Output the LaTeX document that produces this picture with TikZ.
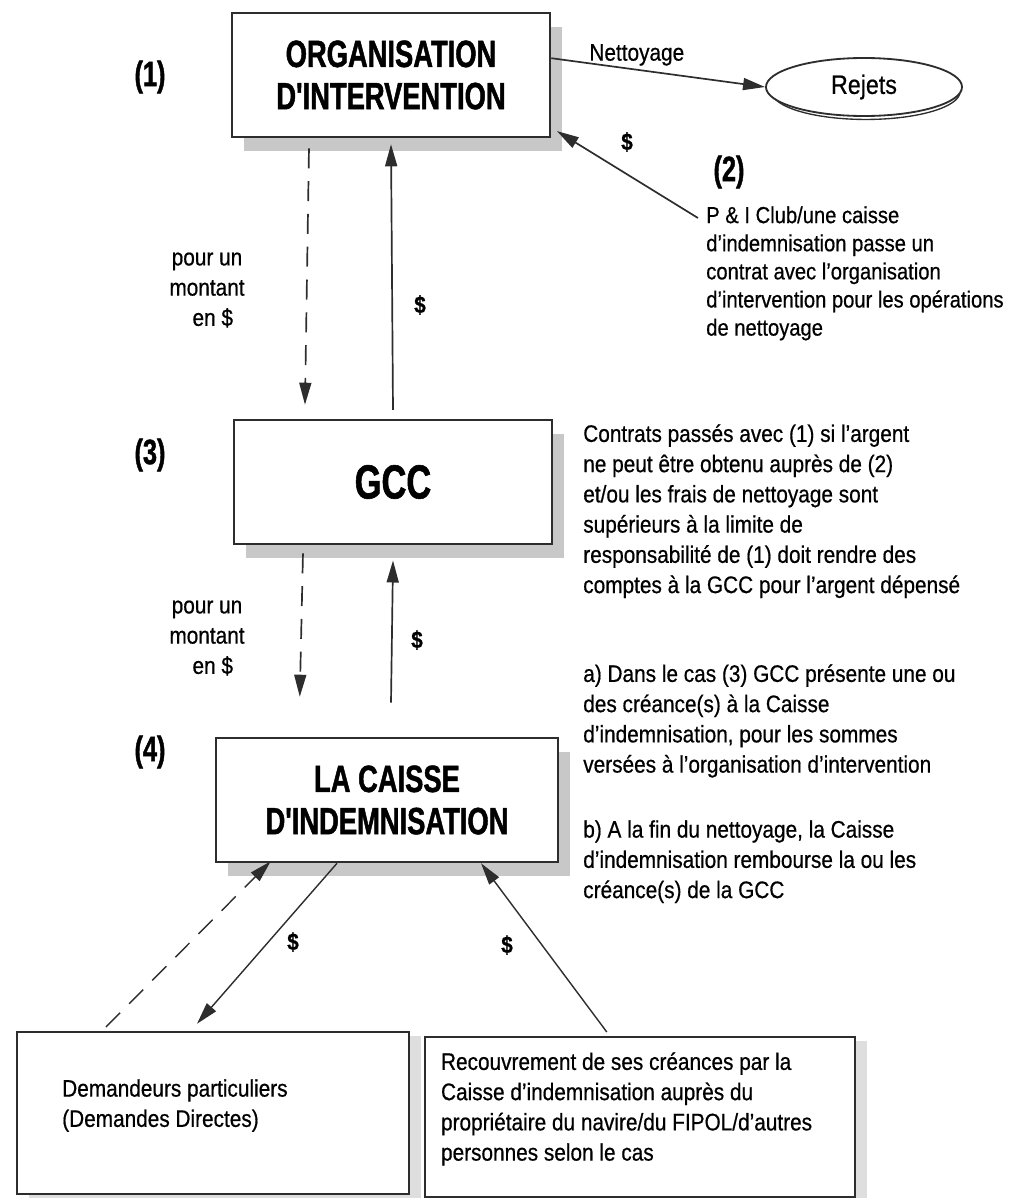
\documentclass[tikz,border=0pt]{standalone}
\usepackage{fontspec}
\setmainfont{Liberation Sans}[FakeStretch=0.87, FakeBold=0.6]
\newfontfamily\headfont{Liberation Sans}[FakeStretch=0.72, FakeBold=1.2]
\usetikzlibrary{arrows.meta, positioning, shapes.geometric, shadows}
\definecolor{inkgray}{RGB}{45,45,45}
\definecolor{shadowgray}{RGB}{200,200,200}

\begin{document}
\begin{tikzpicture}[x=0.025cm, y=-0.025cm,
		font=\fontsize{17}{21.5}\selectfont,
		>={Triangle[length=0.55cm, width=0.3cm]},
		base/.style = {draw=inkgray, fill=white, line width=1.8pt},
		boxshadow/.style = {drop shadow={shadow xshift=0.3cm, shadow yshift=-0.34cm, fill=shadowgray, opacity=1}},
		headbox/.style = {rectangle, base, boxshadow, align=center, minimum width=7.95cm, minimum height=3.1cm, font=\headfont\bfseries\fontsize{27}{30}\selectfont},
		lowbox/.style = {rectangle, base, line width=1.4pt, drop shadow={shadow xshift=0.3cm, shadow yshift=-0.1cm, fill=shadowgray!60, opacity=1}},
		txt/.style = {anchor=north west, align=left, inner sep=0pt},
		num/.style = {font=\headfont\bfseries\fontsize{25}{27}\selectfont},
		dollar/.style = {font=\bfseries\fontsize{17}{20}\selectfont},
		conn/.style = {->, draw=inkgray, line width=1.2pt},
		dconn/.style = {conn, dash pattern=on 0.5cm off 0.32cm}
		]
		\useasboundingbox (0,0) rectangle (1030,1198);
		
		% boxes
		\node (org) [headbox] at (391,75) {ORGANISATION\\D'INTERVENTION};
		\node (rejets) [ellipse, draw=inkgray, fill=white, line width=1.3pt, minimum width=4.9cm, minimum height=1.45cm, font=\fontsize{19}{21}\selectfont,
			drop shadow={shadow xshift=0.05cm, shadow yshift=-0.12cm, shadow scale=0.96, fill=none, draw=inkgray, line width=1pt, opacity=1}] at (864,87) {Rejets};
		\node (gcc) [headbox, font=\headfont\bfseries\fontsize{34}{36}\selectfont] at (393,482) {GCC};
		\node (caisse) [headbox, minimum width=8.55cm] at (387,800) {LA CAISSE\\D'INDEMNISATION};
		\node (dem) [lowbox, minimum width=9.8cm, minimum height=4.05cm] at (213,1113) {};
		\node (rec) [lowbox, minimum width=10.75cm, minimum height=4.0cm] at (640,1117) {};
		
		% numbers
		\node (n1) [num] at (150,77) {(1)};
		\node (n2) [num] at (729,172) {(2)};
		\node (n3) [num] at (150,455) {(3)};
		\node (n4) [num] at (150,752) {(4)};
		
		% texts
		\node (t2) [txt, font=\fontsize{16.5}{20}\selectfont] at (706,206) {P \& I Club/une caisse\\d'indemnisation passe un\\contrat avec l'organisation\\d'intervention pour les opérations\\de nettoyage};
		\node (t3) [txt] at (583,424) {Contrats passés avec (1) si l'argent\\ne peut être obtenu auprès de (2)\\et/ou les frais de nettoyage sont\\supérieurs à la limite de\\responsabilité de (1) doit rendre des\\comptes à la GCC pour l'argent dépensé};
		\node (ta) [txt] at (583,664) {a) Dans le cas (3) GCC présente une ou\\des créance(s) à la Caisse\\d'indemnisation, pour les sommes\\versées à l'organisation d'intervention};
		\node (tb) [txt] at (583,820) {b) A la fin du nettoyage, la Caisse\\d'indemnisation rembourse la ou les\\créance(s) de la GCC};
		\node (demtxt) [txt] at ([xshift=1.15cm,yshift=-1.2cm]dem.north west) {Demandeurs particuliers\\(Demandes Directes)};
		\node (rectxt) [txt] at ([xshift=0.42cm,yshift=-0.4cm]rec.north west) {Recouvrement de ses créances par la\\Caisse d'indemnisation auprès du\\propriétaire du navire/du FIPOL/d'autres\\personnes selon le cas};
		\node (m1) [align=center] at (207,290) {pour un\\montant\\\ \ en \$};
		\node (m2) [align=center] at (207,638) {pour un\\montant\\\ \ en \$};
		
		% dollar labels
		\node (d1) [dollar] at (627,142) {\$};
		\node (d2) [dollar] at (420,305) {\$};
		\node (d3) [dollar] at (417,640) {\$};
		\node (d4) [dollar] at (293,942) {\$};
		\node (d5) [dollar] at (507,945) {\$};
		
		% arrows
		\draw[conn] ([yshift=0.42cm]org.east) -- node[pos=0.4, above=-1pt] {Nettoyage} (rejets.west);
		\draw[conn] ([xshift=-0.2cm,yshift=-0.3cm]t2.north west) -- ([xshift=0.14cm,yshift=0.18cm]org.south east);
		\draw[dconn] ([xshift=-2.05cm,yshift=-0.25cm]org.south) -- ([xshift=-2.2cm,yshift=0.35cm]gcc.north);
		\draw[conn] ([yshift=0.22cm]gcc.north) -- ([yshift=-0.15cm]org.south);
		\draw[dconn] ([xshift=-2.25cm,yshift=-0.2cm]gcc.south) -- ([xshift=-2.18cm,yshift=1.0cm]caisse.north);
		\draw[conn] ([xshift=0.1cm,yshift=0.85cm]caisse.north) -- ([yshift=-0.38cm]gcc.south);
		\draw[dconn, line width=1pt] ([xshift=2.25cm,yshift=0.1cm]dem.north west) -- ([xshift=1.4cm,yshift=0.05cm]caisse.south west);
		\draw[conn, line width=1pt] ([xshift=-1.25cm]caisse.south) -- ([xshift=-0.4cm,yshift=0.18cm]dem.north);
		\draw[conn, line width=1pt] ([xshift=-0.83cm,yshift=0.1cm]rec.north) -- ([xshift=2.35cm]caisse.south);
	\end{tikzpicture}
\end{document}
